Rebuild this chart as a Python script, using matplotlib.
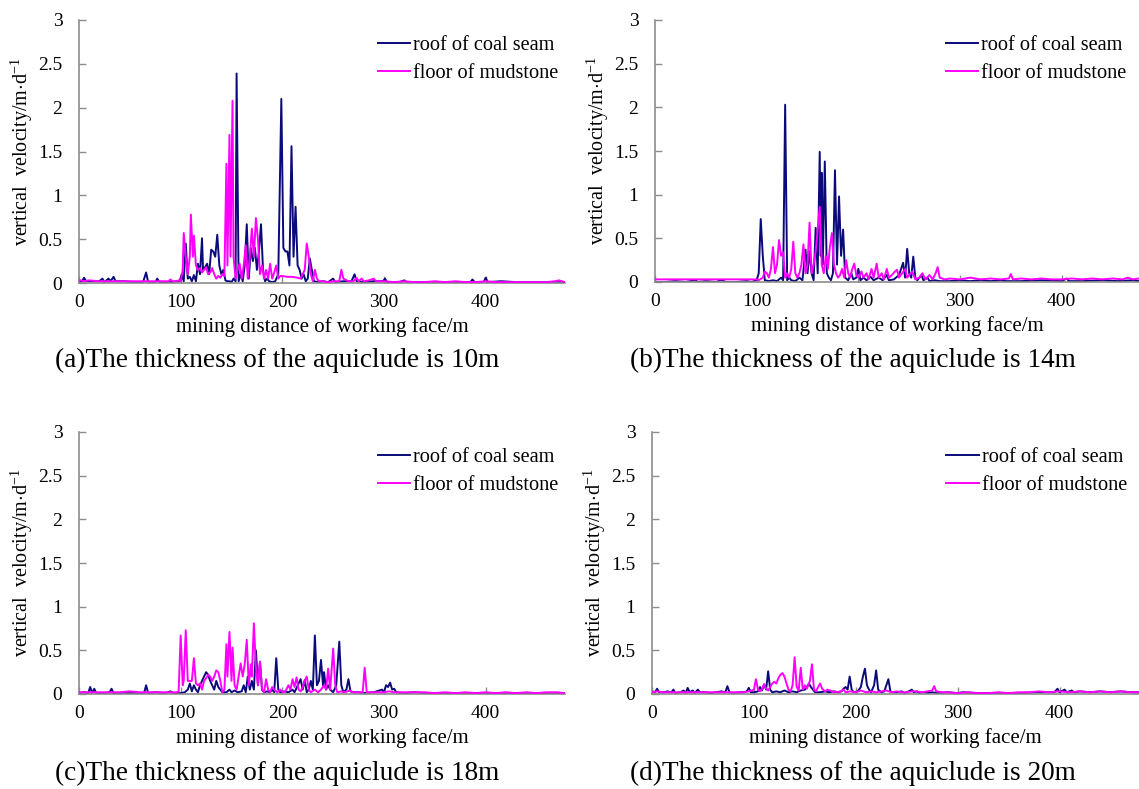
import numpy as np
import matplotlib
matplotlib.use("Agg")
import matplotlib.pyplot as plt

plt.rcParams['font.family'] = ['Liberation Serif', 'DejaVu Serif']
plt.rcParams['mathtext.fontset'] = 'custom'
plt.rcParams['mathtext.rm'] = 'Liberation Serif'

# ---------------- data ----------------
x_ticks = [0, 100, 200, 300, 400]
x_tick_labels = ["0", "100", "200", "300", "400"]
y_ticks = [0, 0.5, 1, 1.5, 2, 2.5, 3]
y_tick_labels = ["0", "0.5", "1", "1.5", "2", "2.5", "3"]
series_names = ["roof of coal seam", "floor of mudstone"]
captions = ["(a)The thickness of the aquiclude is 10m",
            "(b)The thickness of the aquiclude is 14m",
            "(c)The thickness of the aquiclude is 18m",
            "(d)The thickness of the aquiclude is 20m"]

roof_a = [(0,0.02),(3,0.02),(5,0.06),(7,0.02),(15,0.02),(20,0.02),(23,0.05),(25,0.01),(29,0.05),(31,0.02),(34,0.07),(36,0.02),(45,0.02),(55,0.01),(63,0.01),(66,0.12),(68,0.01),(75,0.01),(77,0.05),(79,0.01),(90,0.01),(96,0.02),(99,0.02),(101,0.1),(103,0.02),(105,0.45),(107,0.05),(109,0.07),(111,0.02),(113,0.09),(115,0.02),(117,0.22),(119,0.1),(121,0.51),(122,0.15),(124,0.18),(126,0.22),(128,0.1),(130,0.38),(132,0.36),(134,0.3),(136,0.55),(138,0.2),(140,0.1),(142,0.15),(144,0.03),(146,0.02),(148,0.02),(150,0.01),(152,0.05),(154,0.02),(155,2.39),(157,0.02),(159,0.1),(161,0.02),(163,0.2),(165,0.67),(167,0.05),(169,0.4),(171,0.25),(173,0.4),(175,0.15),(177,0.36),(179,0.67),(181,0.15),(183,0.02),(185,0.05),(187,0.02),(190,0.01),(193,0.02),(196,0.1),(199,2.1),(201,0.4),(203,0.36),(205,0.36),(207,0.2),(209,1.56),(211,0.3),(213,0.87),(215,0.2),(217,0.15),(219,0.05),(221,0.1),(223,0.02),(225,0.05),(227,0.28),(229,0.15),(231,0.02),(235,0.01),(240,0.02),(245,0.01),(250,0.05),(252,0.01),(260,0.02),(268,0.02),(271,0.1),(273,0.02),(280,0.01),(290,0.02),(299,0.02),(301,0.05),(303,0.01),(315,0.01),(320,0.03),(322,0.01),(340,0.01),(360,0.01),(385,0.01),(387,0.04),(389,0.01),(398,0.01),(400,0.06),(402,0.01),(415,0.02),(430,0.01),(450,0.01),(470,0.01),(478,0.01)]

floor_a = [(0,0.03),(2,0.03),(4,0.02),(10,0.03),(20,0.02),(30,0.02),(40,0.02),(50,0.02),(60,0.02),(70,0.02),(80,0.02),(88,0.02),(90,0.04),(92,0.02),(96,0.02),(98,0.03),(100,0.02),(102,0.15),(103,0.57),(105,0.3),(107,0.1),(109,0.3),(110,0.78),(112,0.3),(113,0.54),(115,0.2),(117,0.15),(119,0.17),(121,0.12),(123,0.15),(125,0.18),(127,0.1),(129,0.12),(131,0.17),(133,0.1),(135,0.05),(137,0.08),(139,0.06),(141,0.1),(143,0.08),(145,1.36),(146,0.2),(148,1.69),(149,0.3),(151,2.08),(152,0.3),(154,0.05),(156,0.15),(158,0.22),(160,0.05),(162,0.2),(164,0.43),(166,0.05),(168,0.3),(170,0.62),(172,0.3),(174,0.74),(176,0.5),(178,0.1),(180,0.2),(182,0.05),(184,0.15),(186,0.05),(188,0.22),(190,0.05),(192,0.12),(194,0.2),(196,0.05),(198,0.08),(200,0.08),(205,0.07),(210,0.07),(215,0.06),(218,0.05),(220,0.1),(222,0.15),(224,0.45),(226,0.3),(228,0.1),(230,0.02),(232,0.15),(234,0.05),(236,0.02),(240,0.02),(245,0.01),(250,0.02),(256,0.02),(258,0.15),(260,0.05),(265,0.02),(270,0.02),(273,0.06),(275,0.02),(278,0.05),(280,0.02),(285,0.03),(290,0.05),(292,0.02),(300,0.02),(310,0.01),(320,0.02),(330,0.01),(340,0.01),(350,0.02),(360,0.01),(370,0.02),(380,0.01),(390,0.01),(400,0.02),(410,0.01),(420,0.01),(430,0.01),(440,0.01),(450,0.01),(460,0.01),(468,0.02),(472,0.03),(475,0.02),(478,0.01)]

roof_b = [(0,0.0),(10,0.0),(20,0.01),(30,0.0),(40,0.02),(42,0.0),(50,0.01),(60,0.0),(65,0.02),(70,0.0),(80,0.0),(90,0.01),(95,0.0),(100,0.02),(102,0.1),(104,0.72),(106,0.3),(108,0.02),(112,0.01),(116,0.02),(120,0.01),(124,0.05),(126,0.02),(128,2.03),(130,0.02),(132,0.05),(134,0.02),(138,0.01),(142,0.05),(145,0.02),(148,0.37),(150,0.1),(152,0.35),(154,0.1),(156,0.02),(158,0.62),(160,0.1),(162,1.49),(163,0.3),(164,1.25),(165,0.2),(167,1.38),(169,0.1),(171,0.05),(173,0.02),(175,0.1),(177,1.28),(179,0.2),(181,0.98),(183,0.3),(185,0.6),(187,0.05),(190,0.02),(193,0.1),(195,0.03),(198,0.05),(200,0.15),(202,0.02),(205,0.05),(208,0.02),(212,0.06),(215,0.02),(220,0.05),(224,0.02),(228,0.08),(230,0.02),(235,0.03),(240,0.08),(242,0.15),(244,0.22),(246,0.05),(248,0.38),(250,0.1),(252,0.05),(254,0.29),(256,0.05),(258,0.02),(262,0.08),(264,0.02),(268,0.05),(270,0.01),(275,0.02),(280,0.01),(290,0.01),(300,0.02),(310,0.01),(320,0.02),(330,0.01),(340,0.02),(345,0.01),(360,0.01),(380,0.02),(400,0.01),(405,0.04),(407,0.01),(420,0.01),(440,0.02),(455,0.01),(470,0.02),(476,0.01)]

floor_b = [(0,0.03),(20,0.03),(40,0.03),(60,0.03),(80,0.03),(95,0.03),(100,0.03),(102,0.02),(106,0.05),(108,0.12),(110,0.1),(112,0.05),(114,0.15),(116,0.4),(118,0.1),(120,0.2),(122,0.48),(124,0.3),(126,0.34),(128,0.05),(130,0.1),(132,0.05),(134,0.15),(136,0.46),(138,0.1),(140,0.05),(142,0.1),(144,0.2),(146,0.43),(148,0.1),(150,0.2),(152,0.68),(154,0.1),(156,0.2),(158,0.35),(160,0.6),(162,0.86),(164,0.2),(166,0.1),(168,0.3),(170,0.15),(172,0.4),(174,0.56),(176,0.2),(178,0.1),(180,0.05),(182,0.08),(184,0.15),(186,0.05),(188,0.25),(190,0.1),(192,0.05),(194,0.15),(196,0.21),(198,0.08),(200,0.05),(203,0.12),(205,0.05),(208,0.1),(210,0.03),(213,0.15),(215,0.05),(218,0.21),(220,0.05),(223,0.1),(225,0.03),(228,0.15),(230,0.05),(233,0.08),(236,0.12),(238,0.14),(240,0.05),(243,0.1),(246,0.15),(248,0.05),(250,0.08),(253,0.12),(256,0.03),(260,0.05),(263,0.1),(266,0.03),(270,0.08),(273,0.03),(276,0.1),(278,0.17),(280,0.05),(285,0.03),(290,0.04),(300,0.03),(310,0.05),(320,0.03),(330,0.04),(340,0.03),(348,0.04),(350,0.09),(352,0.03),(360,0.04),(370,0.03),(380,0.04),(390,0.03),(400,0.03),(410,0.04),(420,0.03),(430,0.04),(440,0.03),(450,0.04),(460,0.03),(465,0.05),(470,0.03),(476,0.04)]

roof_c = [(0,0.01),(5,0.02),(9,0.01),(11,0.08),(13,0.01),(15,0.06),(17,0.01),(25,0.01),(30,0.02),(32,0.06),(34,0.01),(45,0.01),(55,0.01),(64,0.01),(66,0.1),(68,0.01),(75,0.02),(85,0.01),(90,0.03),(92,0.01),(100,0.01),(104,0.02),(107,0.05),(109,0.12),(111,0.03),(113,0.1),(115,0.05),(117,0.02),(119,0.1),(121,0.15),(123,0.2),(125,0.25),(127,0.22),(129,0.15),(131,0.1),(133,0.05),(135,0.15),(137,0.08),(139,0.05),(141,0.02),(145,0.02),(148,0.05),(150,0.02),(153,0.04),(156,0.02),(160,0.03),(162,0.1),(164,0.02),(166,0.2),(168,0.05),(170,0.15),(172,0.05),(174,0.5),(176,0.1),(178,0.37),(180,0.05),(182,0.02),(185,0.03),(188,0.02),(190,0.05),(192,0.02),(194,0.41),(196,0.05),(198,0.02),(202,0.03),(206,0.02),(210,0.05),(212,0.02),(218,0.17),(220,0.05),(222,0.16),(224,0.02),(226,0.05),(228,0.15),(230,0.05),(232,0.67),(234,0.1),(236,0.15),(238,0.39),(240,0.1),(241,0.25),(243,0.05),(245,0.1),(247,0.05),(250,0.02),(253,0.1),(256,0.6),(258,0.1),(260,0.02),(263,0.05),(265,0.17),(267,0.03),(270,0.02),(275,0.02),(280,0.01),(290,0.02),(298,0.05),(300,0.02),(302,0.1),(304,0.08),(306,0.13),(308,0.05),(310,0.06),(312,0.02),(320,0.01),(330,0.02),(340,0.01),(350,0.01),(360,0.01),(380,0.01),(400,0.01),(420,0.01),(440,0.01),(460,0.01),(470,0.01),(478,0.01)]

floor_c = [(0,0.02),(10,0.02),(20,0.02),(30,0.02),(40,0.02),(50,0.03),(60,0.02),(70,0.02),(80,0.02),(90,0.02),(96,0.02),(98,0.03),(100,0.67),(102,0.1),(103,0.15),(105,0.73),(107,0.15),(109,0.15),(111,0.15),(113,0.41),(115,0.12),(117,0.1),(119,0.12),(121,0.05),(123,0.15),(125,0.18),(127,0.22),(129,0.2),(131,0.15),(133,0.2),(135,0.27),(137,0.25),(139,0.15),(141,0.02),(143,0.05),(145,0.57),(146,0.2),(148,0.71),(150,0.15),(151,0.53),(153,0.1),(155,0.05),(157,0.2),(159,0.35),(161,0.2),(163,0.34),(165,0.62),(167,0.1),(169,0.34),(170,0.2),(172,0.81),(174,0.3),(176,0.1),(178,0.37),(180,0.05),(182,0.02),(184,0.17),(186,0.05),(188,0.02),(190,0.08),(192,0.05),(195,0.02),(198,0.05),(200,0.02),(203,0.03),(206,0.1),(208,0.05),(210,0.17),(212,0.08),(214,0.19),(216,0.05),(218,0.03),(220,0.08),(222,0.15),(224,0.2),(226,0.05),(228,0.02),(232,0.05),(235,0.02),(238,0.05),(241,0.1),(243,0.05),(245,0.29),(247,0.05),(250,0.52),(252,0.1),(254,0.02),(258,0.03),(262,0.02),(266,0.04),(270,0.02),(275,0.02),(279,0.02),(281,0.3),(283,0.02),(290,0.02),(300,0.02),(305,0.03),(310,0.02),(320,0.02),(330,0.02),(340,0.02),(350,0.01),(360,0.02),(370,0.01),(380,0.02),(390,0.01),(400,0.02),(410,0.01),(420,0.02),(430,0.01),(440,0.02),(450,0.01),(460,0.02),(470,0.02),(478,0.01)]

roof_d = [(0,0.03),(3,0.02),(5,0.06),(7,0.02),(12,0.02),(15,0.03),(19,0.02),(21,0.05),(23,0.01),(28,0.02),(31,0.04),(33,0.01),(35,0.07),(37,0.02),(40,0.04),(42,0.01),(45,0.05),(47,0.02),(52,0.02),(58,0.01),(63,0.02),(68,0.03),(72,0.02),(74,0.09),(76,0.02),(80,0.01),(85,0.02),(90,0.02),(93,0.03),(95,0.07),(97,0.02),(100,0.02),(104,0.03),(106,0.08),(108,0.04),(110,0.11),(112,0.05),(114,0.26),(116,0.05),(118,0.02),(122,0.03),(126,0.02),(130,0.04),(134,0.02),(138,0.03),(142,0.02),(146,0.04),(150,0.05),(152,0.08),(154,0.12),(156,0.08),(158,0.05),(160,0.02),(165,0.02),(170,0.03),(174,0.02),(178,0.03),(182,0.02),(186,0.03),(188,0.06),(190,0.08),(192,0.05),(194,0.2),(196,0.05),(198,0.02),(202,0.03),(205,0.08),(207,0.2),(209,0.29),(211,0.1),(213,0.05),(215,0.02),(218,0.1),(220,0.27),(222,0.05),(225,0.02),(228,0.03),(232,0.17),(234,0.03),(236,0.02),(240,0.02),(245,0.03),(248,0.01),(252,0.03),(255,0.05),(257,0.02),(260,0.03),(262,0.01),(266,0.02),(270,0.01),(275,0.02),(280,0.01),(290,0.02),(300,0.01),(305,0.02),(320,0.01),(340,0.01),(360,0.01),(380,0.02),(395,0.02),(398,0.06),(400,0.02),(405,0.05),(407,0.02),(412,0.04),(414,0.02),(420,0.03),(430,0.02),(440,0.03),(450,0.02),(460,0.03),(470,0.02),(478,0.02)]

floor_d = [(0,0.02),(5,0.03),(10,0.02),(20,0.02),(30,0.02),(40,0.02),(50,0.02),(60,0.02),(70,0.02),(80,0.02),(90,0.02),(95,0.03),(98,0.04),(100,0.05),(102,0.17),(104,0.05),(106,0.03),(108,0.06),(110,0.11),(112,0.06),(114,0.04),(116,0.08),(118,0.12),(120,0.14),(122,0.12),(124,0.18),(126,0.22),(128,0.24),(130,0.2),(132,0.12),(134,0.05),(136,0.03),(138,0.1),(140,0.42),(142,0.08),(144,0.04),(146,0.3),(148,0.05),(150,0.1),(152,0.06),(155,0.15),(157,0.34),(159,0.05),(161,0.03),(163,0.08),(165,0.12),(167,0.06),(170,0.03),(172,0.05),(175,0.04),(178,0.02),(180,0.03),(182,0.02),(185,0.03),(188,0.05),(190,0.02),(195,0.03),(200,0.02),(205,0.04),(210,0.02),(215,0.03),(220,0.02),(225,0.03),(230,0.04),(235,0.02),(240,0.03),(245,0.02),(250,0.02),(255,0.03),(260,0.03),(265,0.02),(270,0.03),(275,0.04),(277,0.09),(279,0.03),(285,0.02),(290,0.02),(300,0.01),(310,0.02),(320,0.01),(330,0.01),(340,0.02),(350,0.01),(360,0.02),(370,0.02),(380,0.03),(390,0.02),(400,0.03),(410,0.02),(420,0.03),(430,0.02),(440,0.03),(450,0.02),(460,0.03),(470,0.02),(478,0.02)]

panels = [(roof_a, floor_a), (roof_b, floor_b), (roof_c, floor_c), (roof_d, floor_d)]

# ---------------- layout ----------------
W, H = 1139, 789
fig = plt.figure(figsize=(W / 100, H / 100), dpi=100)

# pixel geometry: (left, top(y=3), right, bottom(y=0)), x max value
geom = [(79, 20, 565, 283, 478),
        (655, 20, 1139, 282, 476),
        (79, 432, 565, 694, 478),
        (652, 432, 1139, 694, 478)]
leg_anchor = [(0.615, 0.94), (0.601, 0.94), (0.615, 0.94), (0.604, 0.94)]
cap_pos = [(277, 360), (853, 360), (277, 773), (853, 773)]

roof_color = "#0a0a7a"
floor_color = "#ff00ff"
spine_color = "#8c8c8c"

for i, ((roof, floor), (l, t, r, b, xmax)) in enumerate(zip(panels, geom)):
    ax = fig.add_axes([l / W, 1 - b / H, (r - l) / W, (b - t) / H])
    rx, ry = np.array(roof).T
    fx, fy = np.array(floor).T
    ax.plot(rx, ry, color=roof_color, lw=1.4, label=series_names[0], zorder=2)
    ax.plot(fx, fy, color=floor_color, lw=1.4, label=series_names[1], zorder=3)
    ax.set_xlim(0, xmax)
    ax.set_ylim(0, 3)
    ax.set_xticks(x_ticks)
    ax.set_xticklabels(x_tick_labels)
    ax.set_yticks(y_ticks)
    ax.set_yticklabels(y_tick_labels)
    for s in ["top", "right"]:
        ax.spines[s].set_visible(False)
    for s in ["left", "bottom"]:
        ax.spines[s].set_color(spine_color)
        ax.spines[s].set_linewidth(1.2)
    ax.tick_params(axis="both", direction="in", length=5, width=1.0,
                   color=spine_color, labelsize=14, labelcolor="black")
    ax.tick_params(axis="x", pad=8)
    ax.tick_params(axis="y", pad=12)
    ax.set_xlabel("mining distance of working face/m", fontsize=15, labelpad=4)
    ax.set_ylabel("vertical  velocity/m$\\cdot$d$^{-1}$", fontsize=14.5, labelpad=2)
    ax.legend(loc="upper left", bbox_to_anchor=leg_anchor[i], frameon=False,
              fontsize=14.6, borderpad=0, borderaxespad=0, handlelength=1.6,
              handletextpad=0.15, labelspacing=0.45)
    cx, cy = cap_pos[i]
    fig.text(cx / W, 1 - cy / H, captions[i], fontsize=19.6, ha="center", va="center")

fig.savefig("out.png", dpi=100)
